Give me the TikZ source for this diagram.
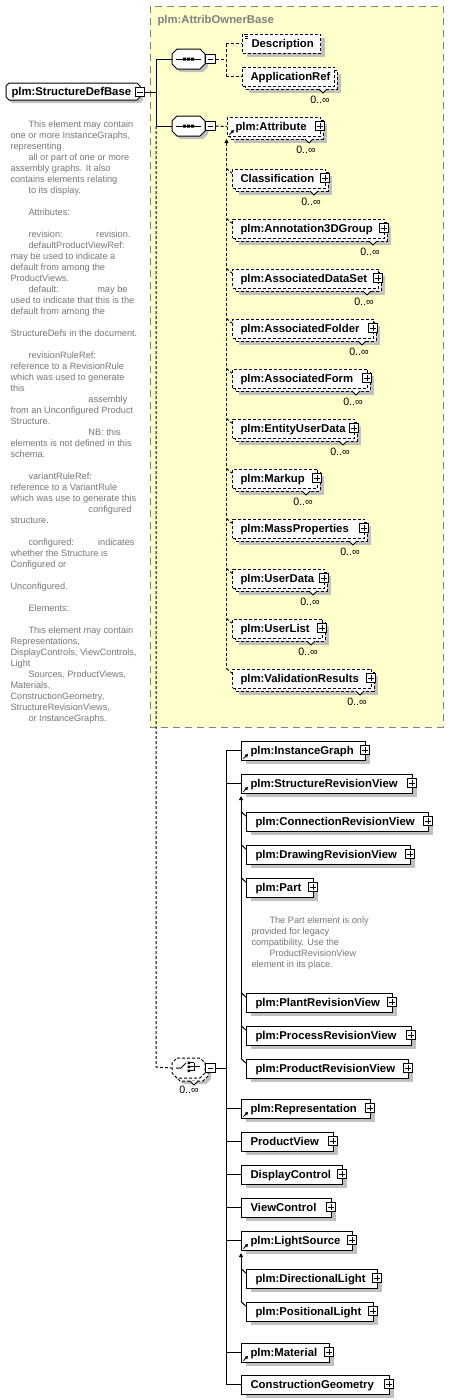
\documentclass[tikz,border=0pt]{standalone}
\usepackage{fontspec}
\setmainfont{Liberation Sans}
\usetikzlibrary{shadows,arrows.meta}
\definecolor{ybg}{RGB}{255,255,204}
\definecolor{shc}{RGB}{192,192,192}
\definecolor{cmt}{RGB}{118,118,118}
\definecolor{ttl}{RGB}{128,128,128}
\tikzset{
 dsh/.style={dash pattern=on 2.25pt off 1.5pt},
 boxn/.style={draw, fill=white, rectangle, inner sep=0pt, minimum height=14.25pt},
 boxsh/.style={general shadow={fill=shc, shadow xshift=3pt, shadow yshift=-3pt}},
 anch/.style={rectangle, inner sep=0pt},
 lbl/.style={inner sep=0pt, font=\fontsize{8.5}{10}\selectfont\bfseries},
 occ/.style={inner sep=0pt, font=\fontsize{8}{9}\selectfont},
 pmbox/.style={draw, fill=white, rectangle, inner sep=0pt, minimum size=7pt},
 plusb/.style={pmbox, path picture={\draw ([xshift=1.4pt]path picture bounding box.west) -- ([xshift=-1.4pt]path picture bounding box.east) ([yshift=-1.4pt]path picture bounding box.north) -- ([yshift=1.4pt]path picture bounding box.south);}},
 minusb/.style={pmbox, path picture={\draw ([xshift=1.4pt]path picture bounding box.west) -- ([xshift=-1.4pt]path picture bounding box.east);}},
 cmtxt/.style={inner sep=0pt, text=cmt, align=left, font=\fontsize{6.9}{8.25}\selectfont},
}
\newcommand\octo[6]{%
 \draw[#6] (#1-#3+#5,#2-#4) -- (#1+#3-#5,#2-#4) -- (#1+#3,#2-#4+#5) -- (#1+#3,#2+#4-#5) -- (#1+#3-#5,#2+#4) -- (#1-#3+#5,#2+#4) -- (#1-#3,#2+#4-#5) -- (#1-#3,#2-#4+#5) -- cycle;}
\newcommand\selem[6]{%
  \node[boxn,boxsh,#6,minimum width={(#3-#2)*0.75pt},anchor=west] (#1) at (#2,#4+0.5) {};
  \node[lbl,anchor=base west] (#1-t) at (#2+9,#4+4) {#5};}
\newcommand\melem[5]{%
  \fill[shc] (#2+7,#4-2) rectangle (#3+7,#4+17);
  \draw[dsh,fill=white] (#2+3,#4-6) rectangle (#3+3,#4+13);
  \node[boxn,dsh,minimum width={(#3-#2)*0.75pt},anchor=west] (#1) at (#2,#4+0.5) {};
  \node[lbl,anchor=base west] (#1-t) at (#2+8,#4+4) {#5};
  \draw[fill=white,line width=0.6pt] (#3-15,#4+13) -- (#3-11,#4+17) -- (#3-7,#4+13);
  \node[occ] (#1-o) at (#3-14,#4+24) {0..∞};}
\newcommand\plusat[3]{\node[plusb] (#1-p) at (#2,#3) {};}
\newcommand\refic[2]{\draw[-{Triangle[length=2.2pt,width=2.6pt]},line width=0.75pt] (#1+2.5,#2+8.5) -- (#1+7,#2+4);}
\begin{document}
\begin{tikzpicture}[x=0.75pt,y=-0.75pt,line width=0.75pt]
\useasboundingbox (0,0) rectangle (449,1400);
% group box
\draw[draw=ttl, fill=ybg, dash pattern=on 5.25pt off 3.75pt] (150,6) rectangle (443,727);
\node[lbl, text=ttl, anchor=base west] (grpt) at (157,23) {plm:AttribOwnerBase};

% root element
\octo{76}{94.5}{67}{8.5}{3}{fill=shc,draw=none}
\octo{73}{91.5}{67}{8.5}{3}{fill=white}
\node[anch, minimum width=100.5pt, minimum height=12.75pt] (root) at (73,91.5) {};
\node[lbl, anchor=base west] (roott) at (11,95.5) {plm:StructureDefBase};
\node[minusb] (rootm) at (140,92) {};

% root documentation
\node[cmtxt, anchor=north west] (rdoc) at (10,120) {%
\hspace*{13.5pt}This element may contain\\
one or more InstanceGraphs,\\
representing\\
\hspace*{13.5pt}all or part of one or more\\
assembly graphs. It also\\
contains elements relating\\
\hspace*{13.5pt}to its display.\\
\mbox{}\\
\hspace*{13.5pt}Attributes:\\
\mbox{}\\
\makebox[90pt][l]{\hspace*{13.5pt}revision:\hfill revision.}\\
\hspace*{13.5pt}defaultProductViewRef:\\
may be used to indicate a\\
default from among the\\
ProductViews.\\
\makebox[87.75pt][l]{\hspace*{13.5pt}default:\hfill may be}\\
used to indicate that this is the\\
default from among the\\
\mbox{}\\
StructureDefs in the document.\\
\mbox{}\\
\hspace*{13.5pt}revisionRuleRef:\\
reference to a RevisionRule\\
which was used to generate\\
this\\
\hspace*{58.5pt}assembly\\
from an Unconfigured Product\\
Structure.\\
\hspace*{58.5pt}NB: this\\
elements is not defined in this\\
schema.\\
\mbox{}\\
\hspace*{13.5pt}variantRuleRef:\\
reference to a VariantRule\\
which was use to generate this\\
\hspace*{58.5pt}configured\\
structure.\\
\mbox{}\\
\makebox[93pt][l]{\hspace*{13.5pt}configured:\hfill indicates}\\
whether the Structure is\\
Configured or\\
\mbox{}\\
Unconfigured.\\
\mbox{}\\
\hspace*{13.5pt}Elements:\\
\mbox{}\\
\hspace*{13.5pt}This element may contain\\
Representations,\\
DisplayControls, ViewControls,\\
Light\\
\hspace*{13.5pt}Sources, ProductViews,\\
Materials,\\
ConstructionGeometry,\\
StructureRevisionViews,\\
\hspace*{13.5pt}or InstanceGraphs.};

% sequences
\octo{191.5}{62}{16.5}{10}{5}{fill=shc,draw=none}
\octo{188.5}{59}{16.5}{10}{5}{fill=white}
\node[anch, minimum width=24.75pt, minimum height=15pt] (seq1) at (188.5,59) {};
\draw (176,59) -- (201,59);
\fill (183,57.5) rectangle (186,60.5) (187,57.5) rectangle (190,60.5) (191,57.5) rectangle (194,60.5);
\node[minusb] (seq1m) at (210.5,59) {};
\octo{191.5}{129}{16.5}{10}{5}{fill=shc,draw=none}
\octo{188.5}{126}{16.5}{10}{5}{fill=white}
\node[anch, minimum width=24.75pt, minimum height=15pt] (seq2) at (188.5,126) {};
\draw (176,126) -- (201,126);
\fill (183,124.5) rectangle (186,127.5) (187,124.5) rectangle (190,127.5) (191,124.5) rectangle (194,127.5);
\node[minusb] (seq2m) at (210.5,126) {};

% first sequence children
\selem{desc}{242}{320}{43}{Description}{dsh}
\draw[line width=0.6pt] (243.5,34.5) -- (248,34.5) (244.5,36.5) -- (248,36.5) (244.5,38.5) -- (248,38.5);
\melem{appr}{242}{334}{76}{ApplicationRef}

% substitution group of Attribute
\melem{attr}{227}{320}{126}{plm:Attribute}
\refic{227}{126}
\plusat{attr}{320}{126}
\melem{cls}{232}{325}{178}{Classification}\plusat{cls}{325}{178}
\melem{ann}{232}{384}{228}{plm:Annotation3DGroup}\plusat{ann}{384}{228}
\melem{ads}{232}{378}{278}{plm:AssociatedDataSet}\plusat{ads}{378}{278}
\melem{afo}{232}{373}{328}{plm:AssociatedFolder}\plusat{afo}{373}{328}
\melem{afm}{232}{367}{378}{plm:AssociatedForm}\plusat{afm}{367}{378}
\melem{eud}{232}{354}{428}{plm:EntityUserData}\plusat{eud}{354}{428}
\melem{mku}{232}{317}{478}{plm:Markup}\plusat{mku}{317}{478}
\melem{mps}{232}{364}{528}{plm:MassProperties}\plusat{mps}{364}{528}
\melem{ud}{232}{324}{578}{plm:UserData}\plusat{ud}{324}{578}
\melem{ul}{232}{322}{628}{plm:UserList}\plusat{ul}{322}{628}
\melem{vr}{232}{371}{678}{plm:ValidationResults}\plusat{vr}{371}{678}

% choice
\octo{194.5}{1074}{16.5}{10}{5}{fill=shc,draw=none}
\octo{191.5}{1071}{16.5}{10}{5}{fill=white,dsh}
\octo{188.5}{1068}{16.5}{10}{5}{fill=white,dsh}
\node[anch, minimum width=24.75pt, minimum height=15pt] (choice) at (188.5,1068) {};
\draw[fill=white,line width=0.6pt] (190,1081) -- (194,1085) -- (198,1081);
\draw (176,1068) -- (181,1068) -- (186,1063);
\fill (187.5,1061.5) rectangle (190,1064) (187.5,1065.5) rectangle (190,1068) (187.5,1069.5) rectangle (190,1072);
\draw (190,1062.8) -- (194,1062.8) (190,1070.8) -- (194,1070.8) (194,1062.8) -- (194,1070.8) (190,1066.8) -- (200,1066.8);
\node[minusb] (chm) at (210.5,1068) {};
\node[occ] (cho) at (189,1090) {0..∞};

% lower elements
\selem{ig}{241}{365}{750}{plm:InstanceGraph}{}\refic{241}{750}\plusat{ig}{365}{750}
\selem{srv}{241}{412}{783}{plm:StructureRevisionView}{}\refic{241}{783}\plusat{srv}{412}{783}
\selem{crv}{246}{428}{821}{plm:ConnectionRevisionView}{}\plusat{crv}{428}{821}
\selem{drv}{246}{410}{854}{plm:DrawingRevisionView}{}\plusat{drv}{410}{854}
\selem{part}{246}{313}{887}{plm:Part}{}\plusat{part}{313}{887}
\node[cmtxt, anchor=north west] (pdoc) at (251,916) {\hspace*{13.5pt}The Part element is only\\
provided for legacy\\
compatibility. Use the\\
\hspace*{13.5pt}ProductRevisionView\\
element in its place.};
\selem{plv}{246}{392}{1002}{plm:PlantRevisionView}{}\plusat{plv}{392}{1002}
\selem{prc}{246}{411}{1035}{plm:ProcessRevisionView}{}\plusat{prc}{411}{1035}
\selem{prd}{246}{408}{1068}{plm:ProductRevisionView}{}\plusat{prd}{408}{1068}
\selem{rep}{241}{370}{1108}{plm:Representation}{}\refic{241}{1108}\plusat{rep}{370}{1108}
\selem{pv}{241}{333}{1141}{ProductView}{}\plusat{pv}{333}{1141}
\selem{dc}{241}{342}{1174}{DisplayControl}{}\plusat{dc}{342}{1174}
\selem{vc}{241}{331}{1207}{ViewControl}{}\plusat{vc}{331}{1207}
\selem{ls}{241}{352}{1240}{plm:LightSource}{}\refic{241}{1240}\plusat{ls}{352}{1240}
\selem{dl}{246}{377}{1278}{plm:DirectionalLight}{}\plusat{dl}{377}{1278}
\selem{pl}{246}{373}{1311}{plm:PositionalLight}{}\plusat{pl}{373}{1311}
\selem{mat}{241}{329}{1352}{plm:Material}{}\refic{241}{1352}\plusat{mat}{329}{1352}
\selem{cg}{241}{389}{1384}{ConstructionGeometry}{}\plusat{cg}{389}{1384}

% connectors: root
\coordinate (j0) at (156,92);
\coordinate (j1) at (156,59);
\coordinate (j2) at (156,126);
\coordinate (j3) at (156,1067);
\draw (rootm.east) -- (j0);
\draw (j1) -- (j2);
\draw (j1) -- (seq1.west);
\draw (j2) -- (seq2.west);
\draw[dsh] (j2) -- (j3) -- (choice.west);
% seq1
\coordinate (s1) at (226,59);
\draw[dsh] (seq1m.east) -- (s1);
\draw[dsh] (s1 |- desc.west) -- (s1 |- appr.west);
\draw[dsh] (s1 |- desc.west) -- (desc.west);
\draw[dsh] (s1 |- appr.west) -- (appr.west);
% seq2
\draw[dsh] (seq2m.east) -- (attr.west);
\coordinate (t1) at (226.5,139);
\draw[dsh, {Triangle[length=3pt,width=3pt]}-] (t1) -- (226.5,669);
\foreach \n in {cls,ann,ads,afo,afm,eud,mku,mps,ud,ul,vr}{
  \draw[dsh] (t1 |- \n.north west) -- ([yshift=-3.5pt]\n.north west);
}
% choice trunk
\coordinate (tr) at (226,750);
\draw (chm.east) -- (tr |- chm.east);
\draw (tr |- ig.west) -- (tr |- cg.west);
\foreach \n in {ig,srv,rep,pv,dc,vc,ls,mat,cg}{
  \draw (tr |- \n.west) -- (\n.west);
}
% structure revision view substitution
\coordinate (t2) at (241,796);
\draw[{Triangle[length=3pt,width=3pt]}-] (t2) -- (t2 |- prd.north west);
\foreach \n in {crv,drv,part,plv,prc,prd}{
  \draw (t2 |- \n.north west) -- ([yshift=-3.5pt]\n.north west);
}
% light source substitution
\coordinate (t3) at (241,1253);
\draw[{Triangle[length=3pt,width=3pt]}-] (t3) -- (t3 |- pl.north west);
\foreach \n in {dl,pl}{
  \draw (t3 |- \n.north west) -- ([yshift=-3.5pt]\n.north west);
}
\end{tikzpicture}
\end{document}
